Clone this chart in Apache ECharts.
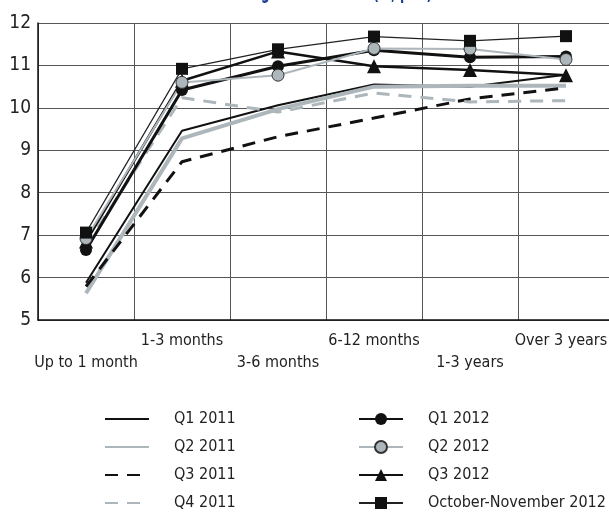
<!DOCTYPE html>
<html>
<head>
<meta charset="utf-8">
<script src="https://cdn.jsdelivr.net/npm/echarts@6/dist/echarts.min.js"></script>
<style>
  html, body { margin: 0; padding: 0; background: #fff; }
  #chart { width: 609px; height: 513px; }
</style>
</head>
<body>
<div id="chart"></div>
<script>
// Deposit terms along the x axis
const categories = ['Up to 1 month', '1-3 months', '3-6 months', '6-12 months', '1-3 years', 'Over 3 years'];

// Rates, % p.a., one array per period
const q1_2011 = [5.88, 9.46, 10.06, 10.55, 10.50, 10.78];
const q2_2011 = [5.63, 9.28, 9.97, 10.50, 10.52, 10.52];
const q3_2011 = [5.79, 8.73, 9.32, 9.76, 10.21, 10.47];
const q4_2011 = [6.75, 10.24, 9.90, 10.35, 10.14, 10.17];
const q1_2012 = [6.65, 10.42, 10.98, 11.36, 11.19, 11.21];
const q2_2012 = [6.92, 10.60, 10.77, 11.40, 11.39, 11.14];
const q3_2012 = [6.85, 10.64, 11.33, 10.98, 10.89, 10.77];
const octNov_2012 = [7.06, 10.92, 11.38, 11.68, 11.58, 11.69];

const yTicks = [5, 6, 7, 8, 9, 10, 11, 12];

const FONT = "'Liberation Sans Narrow', 'DejaVu Sans Condensed', 'Roboto Condensed', sans-serif";
const GREY = '#adb6ba';

const chart = echarts.init(document.getElementById('chart'), null, { renderer: 'canvas' });

function lineSeries(name, data, color, lineStyle, extra) {
  return Object.assign({
    name: name,
    type: 'line',
    data: data,
    symbol: 'none',
    itemStyle: { color: color },
    lineStyle: Object.assign({ color: color }, lineStyle),
    animation: false
  }, extra || {});
}

const series = [
  lineSeries('Q1 2011', q1_2011, '#111', { width: 2 }),
  lineSeries('Q2 2011', q2_2011, GREY, { width: 4 }),
  lineSeries('Q3 2011', q3_2011, '#111', { width: 3, type: [13, 9] }),
  lineSeries('Q4 2011', q4_2011, GREY, { width: 3, type: [13, 9] }),
  lineSeries('Q3 2012', q3_2012, '#111', { width: 2.5 }, {
    symbol: 'triangle', symbolSize: 14
  }),
  lineSeries('Q1 2012', q1_2012, '#111', { width: 3 }, {
    symbol: 'circle', symbolSize: 12
  }),
  lineSeries('Q2 2012', q2_2012, GREY, { width: 2 }, {
    symbol: 'circle', symbolSize: 12,
    itemStyle: { color: GREY, borderColor: '#333', borderWidth: 1 }
  }),
  lineSeries('October-November 2012', octNov_2012, '#222', { width: 1.2 }, {
    symbol: 'rect', symbolSize: 12, itemStyle: { color: '#111' }
  })
];

// Plain line entries carry no marker in the key
function plainEntry(name) {
  return { name: name, itemStyle: { opacity: 0, borderWidth: 0 } };
}

const legendBase = {
  orient: 'vertical',
  padding: 0,
  height: 120,
  itemWidth: 44,
  itemHeight: 15,
  itemGap: 8,
  textStyle: { fontFamily: FONT, fontSize: 16, lineHeight: 20, color: '#222', padding: [0, 0, 0, 20] },
  selectedMode: false
};

chart.setOption({
  backgroundColor: '#fff',
  animation: false,
  graphic: [{
    type: 'text',
    x: 432,
    y: -7,
    scaleX: 0.62,
    style: {
      text: 'Lending interest rates (%, p.a.)',
      fill: '#1d3f94',
      font: "bold 22px " + FONT,
      textAlign: 'right',
      textVerticalAlign: 'middle'
    },
    silent: true
  }],
  grid: { left: 38, top: 23, right: -5, bottom: 193, outerBoundsMode: 'none', containLabel: false },
  xAxis: {
    type: 'category',
    data: categories,
    boundaryGap: true,
    axisLine: { lineStyle: { color: '#111', width: 1.5 } },
    axisTick: { show: false },
    splitLine: { show: true, lineStyle: { color: '#555', width: 1 } },
    axisLabel: {
      interval: 0,
      margin: 10,
      fontFamily: FONT,
      fontSize: 16,
      color: '#222',
      lineHeight: 22,
      verticalAlign: 'top',
      hideOverlap: false,
      formatter: function (v, i) {
        if (i === categories.length - 1) return '{last|' + v + '}';
        return i % 2 === 0 ? '\n' + v : v;
      },
      rich: {
        last: { fontFamily: FONT, fontSize: 16, color: '#222', lineHeight: 22, padding: [0, 10, 0, 0] }
      }
    }
  },
  yAxis: {
    type: 'value',
    min: 5,
    max: 12,
    interval: 1,
    axisLine: { show: true, lineStyle: { color: '#111', width: 1.5 } },
    axisTick: { show: false },
    splitLine: { show: true, lineStyle: { color: '#555', width: 1 } },
    axisLabel: {
      margin: 7,
      fontFamily: FONT,
      fontSize: 19,
      color: '#222',
      formatter: function (v) { return yTicks.indexOf(v) >= 0 ? String(v) : ''; }
    }
  },
  legend: [
    Object.assign({}, legendBase, {
      left: 104, top: 409,
      data: ['Q1 2011', 'Q2 2011', 'Q3 2011', 'Q4 2011'].map(plainEntry)
    }),
    Object.assign({}, legendBase, {
      left: 358, top: 409,
      data: ['Q1 2012', 'Q2 2012', 'Q3 2012', 'October-November 2012']
    })
  ],
  series: series
});
</script>
</body>
</html>
